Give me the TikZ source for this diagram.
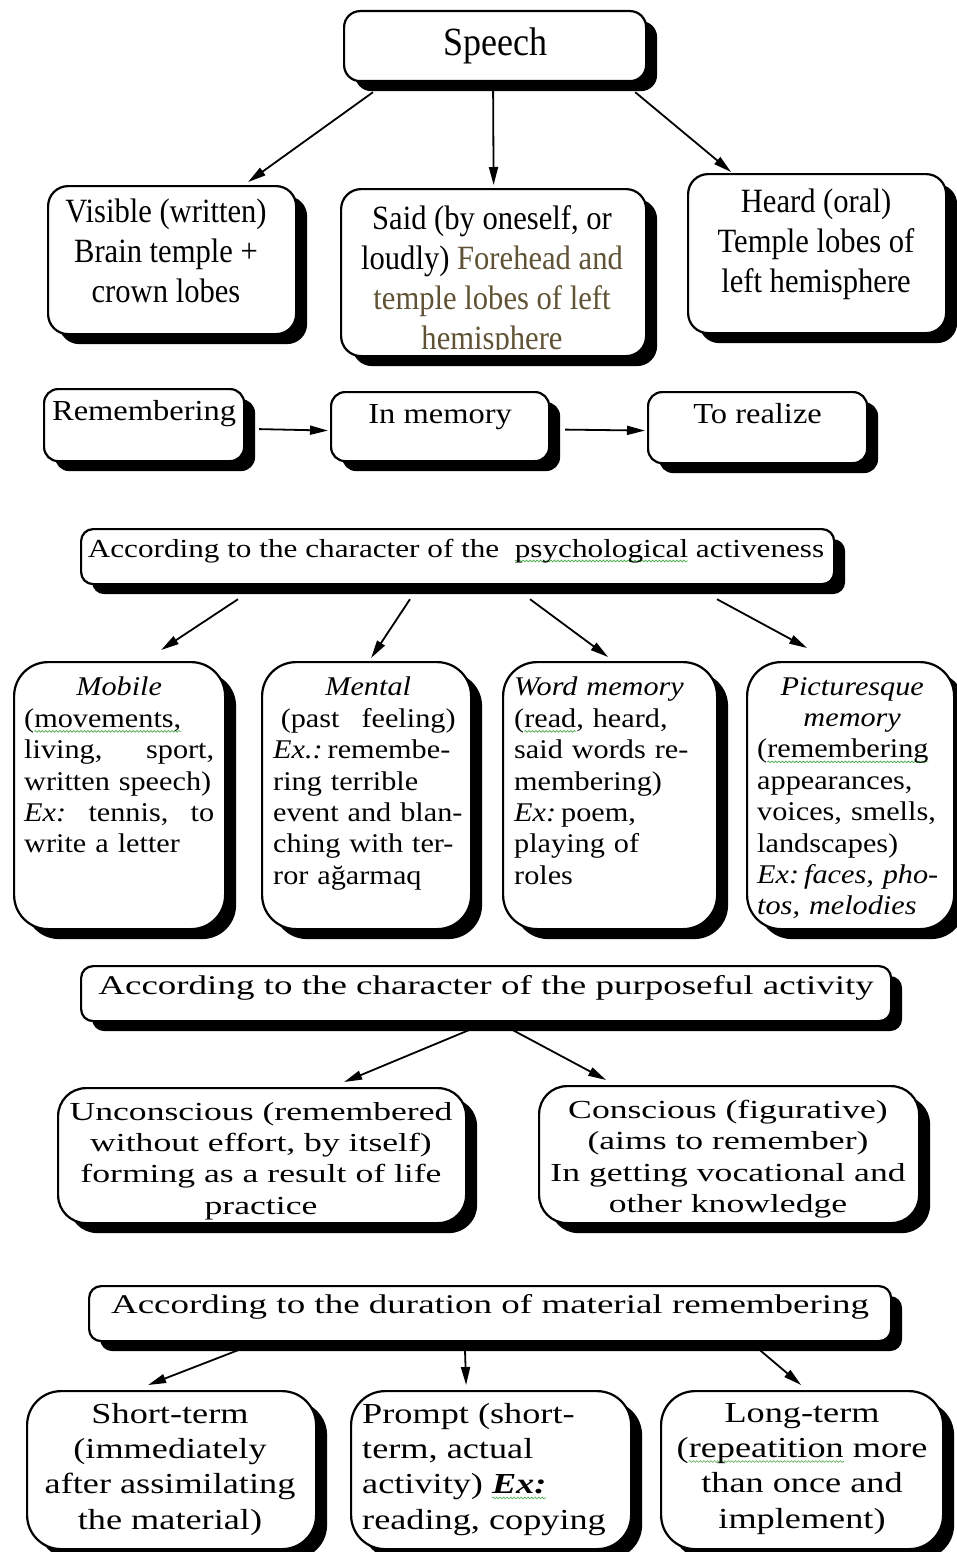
\documentclass[tikz,border=0pt]{standalone}
\usepackage{fontspec}
\setmainfont{Liberation Serif}
\newfontfamily\condfont[FakeStretch=0.9]{Liberation Serif}
\newfontfamily\rowfont[FakeStretch=1.12]{Liberation Serif}
\newfontfamily\headfont[FakeStretch=1.2]{Liberation Serif}
\newfontfamily\lowfont[FakeStretch=1.25]{Liberation Serif}
\newfontfamily\widefont[FakeStretch=1.37]{Liberation Serif}
\usetikzlibrary{arrows.meta,calc,shadows,decorations.pathmorphing}

\definecolor{lobebrown}{RGB}{96,82,52}
\definecolor{spellgreen}{RGB}{70,170,70}
% green wavy underline of the spell checker
\newlength\wavelen
\newcommand\spellwave[1]{\settowidth{\wavelen}{#1}\rlap{\tikz[overlay, baseline=0pt]
  \draw[spellgreen, line width=0.6pt, decorate, decoration={snake, amplitude=0.9pt, segment length=3.5pt}]
  (0pt,-4pt) -- (\wavelen,-4pt);}#1}
% one centred line inside a left aligned block
\newcommand\midline[1]{\hspace*{\fill}#1\hspace*{\fill}\null}

\begin{document}
\begin{tikzpicture}[x=1pt, y=-1pt,
  box/.style={draw, line width=2.2pt, fill=white, anchor=north west, inner sep=0pt,
    drop shadow={shadow xshift=11pt, shadow yshift=-10pt, fill=black, opacity=1}},
  txt/.style={anchor=north, inner sep=0pt, align=center},
  link/.style={line width=1.8pt, -{Triangle[length=18pt,width=9pt]}}
]
\useasboundingbox (0,0) rectangle (956,1552);

% Speech and its three kinds
\node[box, rounded corners=16pt, minimum width=302pt, minimum height=70pt,
  font=\condfont\fontsize{40}{46}\selectfont] (speech) at (343,10) {Speech};
\node[box, rounded corners=20pt, minimum width=248pt, minimum height=148pt] (vis) at (47,185) {};
\node[box, rounded corners=20pt, minimum width=305pt, minimum height=167pt] (said) at (340,188) {};
\node[box, rounded corners=20pt, minimum width=258pt, minimum height=159pt] (heard) at (687,173) {};

\node[txt, font=\condfont\fontsize{34}{40}\selectfont] (vis-t) at (166,199)
  {Visible (written)\\Brain temple +\\crown lobes};
\begin{scope}
  \clip (340,188) rectangle (645,349);
  \node[txt, font=\condfont\fontsize{34}{40}\selectfont] (said-t) at (492,205)
    {Said (by oneself, or\\loudly) \textcolor{lobebrown}{Forehead and}\\
     \textcolor{lobebrown}{temple lobes of left}\\\textcolor{lobebrown}{hemisphere}};
\end{scope}
\node[txt, font=\condfont\fontsize{34}{40}\selectfont] (heard-t) at (816,189)
  {Heard (oral)\\Temple lobes of\\left hemisphere};

\draw[link] ($(speech.south west)+(30,10)$) -- ($(vis.north)+(76,-3)$);
\draw[link] ($(speech.south)+(-2,8)$) -- ($(said.north)+(0,-3)$);
\draw[link] ($(speech.south east)+(-12,10)$) -- ($(heard.north)+(-86,-1)$);

% Remembering row
\node[box, rounded corners=14pt, minimum width=200pt, text height=31pt, text depth=41pt,
  font=\rowfont\fontsize{29}{34}\selectfont] (rem) at (43,388) {Remembering};
\node[box, rounded corners=14pt, minimum width=218pt, text height=31pt, text depth=38pt,
  font=\rowfont\fontsize{29}{34}\selectfont] (mem) at (330,391) {In memory};
\node[box, rounded corners=14pt, minimum width=219pt, text height=31pt, text depth=40pt,
  font=\rowfont\fontsize{29}{34}\selectfont] (real) at (647,391) {To realize};
\draw[link, shorten >=2pt] ([shift={(14pt,-4pt)}]rem.east) -- ([yshift=-4pt]mem.west);
\draw[link, shorten >=2pt] ([shift={(15pt,-3pt)}]mem.east) -- ([yshift=-3pt]real.west);

% psychological activeness
\node[box, rounded corners=12pt, minimum width=753pt, minimum height=55pt] (psy) at (80,528) {};
\node[anchor=base, inner sep=0pt, font=\headfont\fontsize{26}{30}\selectfont] (psy-t) at (456,557)
  {According to the character of the\ \ \spellwave{psychological} activeness};

\node[box, rounded corners=34pt, minimum width=211pt, minimum height=267pt] (mob) at (13,661) {};
\node[box, rounded corners=34pt, minimum width=209pt, minimum height=267pt] (ment) at (261,661) {};
\node[box, rounded corners=34pt, minimum width=214pt, minimum height=267pt] (word) at (502,661) {};
\node[box, rounded corners=34pt, minimum width=207pt, minimum height=267pt] (pic) at (746,661) {};

\node[txt, anchor=north west, text width=190pt, align=left,
  font=\rowfont\fontsize{27}{31.4}\selectfont] (mob-t) at (24,677)
  {\midline{\textit{Mobile}}\\
   (\spellwave{movements,}\\
   living,\hfill sport,\\
   written speech)\\
   \textit{Ex:}\hfill tennis,\hfill to\\
   write a letter};
\node[txt, anchor=north west, text width=190pt, align=left,
  font=\rowfont\fontsize{27}{31.4}\selectfont] (ment-t) at (273,677)
  {\midline{\textit{Mental}}\\
   \midline{(past\hspace{22pt}feeling)}\\
   \textit{Ex.:}\hspace{5pt}remembe-\\
   ring terrible\\
   event and blan-\\
   ching with ter-\\
   ror ağarmaq};
\node[txt, anchor=north west, text width=196pt, align=left,
  font=\rowfont\fontsize{27}{31.4}\selectfont] (word-t) at (514,677)
  {\textit{Word memory}\\
   (\spellwave{read}, heard,\\
   said words re-\\
   membering)\\
   \textit{Ex:}\hspace{5pt}poem,\\
   playing of\\
   roles};
\node[txt, anchor=north west, text width=190pt, align=left,
  font=\rowfont\fontsize{27}{31.4}\selectfont] (pic-t) at (757,677)
  {\midline{\textit{Picturesque}}\\
   \midline{\textit{memory}}\\
   (\spellwave{remembering}\\
   appearances,\\
   voices, smells,\\
   landscapes)\\
   \textit{Ex:\hspace{5pt}faces, pho-}\\
   \textit{tos, melodies}};

\draw[link] ($(psy.south west)+(158,14)$) -- ($(mob.north)+(41.5,-11)$);
\draw[link] ($(psy.south west)+(330,14)$) -- ($(ment.north)+(4.5,-3)$);
\draw[link] ($(psy.south west)+(450,14)$) -- ($(word.north)+(-2,-4)$);
\draw[link] ($(psy.south west)+(637,14)$) -- ($(pic.north)+(-43.5,-13)$);

% purposeful activity
\node[box, rounded corners=12pt, minimum width=810pt, text height=28pt, text depth=27pt,
  font=\widefont\fontsize{27}{31}\selectfont] (pur) at (80,965)
  {According to the character of the purposeful activity};

\node[box, rounded corners=28pt, minimum width=408pt, minimum height=135pt] (unc) at (57,1087) {};
\node[box, rounded corners=28pt, minimum width=380pt, minimum height=137pt] (con) at (538,1085) {};
\node[txt, font=\widefont\fontsize{26}{31.3}\selectfont] (unc-t) at (261,1102)
  {Unconscious (remembered\\without effort, by itself)\\forming as a result of life\\practice};
\node[txt, font=\widefont\fontsize{26}{31.3}\selectfont] (con-t) at (728,1100)
  {Conscious (figurative)\\(aims to remember)\\In getting vocational and\\other knowledge};

\draw[link] ($(pur.south)+(-15,7)$) -- ($(unc.north)+(82,-5)$);
\draw[link] ($(pur.south)+(25,7)$) -- ($(con.north)+(-123,-5)$);

% duration of remembering
\node[box, rounded corners=12pt, minimum width=802pt, text height=27pt, text depth=28pt,
  font=\widefont\fontsize{27}{31}\selectfont] (dur) at (88,1285)
  {According to the duration of material remembering};

\node[box, rounded corners=34pt, minimum width=289pt, minimum height=158pt] (sho) at (26,1390) {};
\node[box, rounded corners=34pt, minimum width=280pt, minimum height=158pt] (pro) at (350,1390) {};
\node[box, rounded corners=34pt, minimum width=282pt, minimum height=158pt] (lon) at (660,1390) {};
\node[txt, font=\lowfont\fontsize{29}{35.3}\selectfont] (sho-t) at (170,1403)
  {Short-term\\(immediately\\after assimilating\\the material)};
\node[txt, anchor=north west, align=left, font=\lowfont\fontsize{29}{35.3}\selectfont] (pro-t) at (362,1403)
  {Prompt (short-\\term, actual\\activity) {\bfseries\itshape\spellwave{Ex:}}\\reading, copying};
\node[txt, font=\lowfont\fontsize{29}{35.3}\selectfont] (lon-t) at (802,1403)
  {Long-term\\(\spellwave{repeatition} more\\than once and\\implement)};

\draw[link] ($(dur.south west)+(150,8)$) -- ($(sho.north)+(-23.5,-5)$);
\draw[link] ($(dur.south west)+(377,8)$) -- ($(pro.north)+(-25,-5)$);
\draw[link] ($(dur.south west)+(672,8)$) -- ($(lon.north)+(-1,-5)$);
\end{tikzpicture}
\end{document}
